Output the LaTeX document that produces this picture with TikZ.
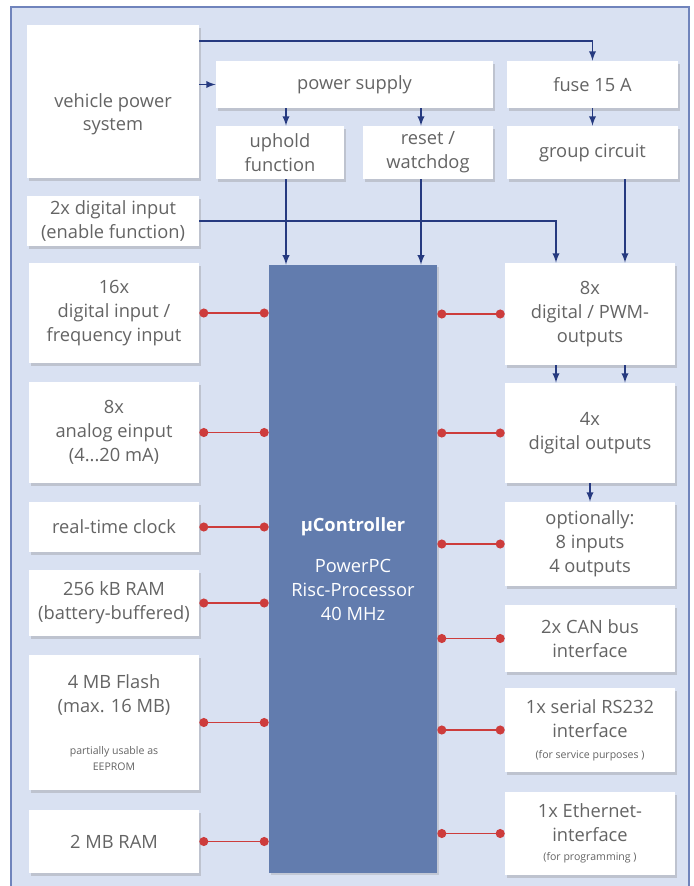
\documentclass[tikz,border=0pt]{standalone}
\usepackage{fontspec}
\setmainfont{Open Sans}
\usetikzlibrary{positioning}
\usetikzlibrary{arrows}
\usetikzlibrary{shadows}
\definecolor{panel}{RGB}{217,225,242}
\definecolor{frame}{RGB}{112,132,188}
\definecolor{cpu}{RGB}{98,124,174}
\definecolor{wireblue}{RGB}{38,58,128}
\definecolor{linkred}{RGB}{205,60,60}
\definecolor{txt}{RGB}{100,100,100}
\newcommand{\finetext}[1]{{\fontsize{7.5}{10}\selectfont #1}}

\begin{document}
\begin{tikzpicture}
    [x=0.025cm, y=-0.025cm,
    block/.style={fill=white, text=txt, align=center, inner sep=2pt, font=\fontsize{13}{17}\selectfont,
        drop shadow={shadow xshift=1.2pt, shadow yshift=-2.2pt, opacity=0.3}},
    leftbox/.style={block, minimum width=4.25cm},
    rightbox/.style={block, minimum width=4.25cm},
    mcu/.style={fill=cpu, text=white, align=center, font=\fontsize{13}{17}\selectfont,
        drop shadow={shadow xshift=1.2pt, shadow yshift=-1.2pt, opacity=0.25}},
    wire/.style={-latex, line width=1.3pt, draw=wireblue},
    link/.style={*-*, line width=1pt, draw=linkred}]
    \useasboundingbox (0,0) rectangle (693,886);
    %\draw[step=1cm,gray,very thin] (0,0) grid (693,886);
    \fill[panel] (11,7) rectangle (689,890);
    \draw[frame, line width=1.5pt] (11,890) -- (11,7) -- (689,7) -- (689,890);
    % supply part
    \node[block, minimum width=4.3cm, minimum height=3.825cm] (veh) at (113,101.5) {\rule{0pt}{28pt}vehicle power\\system};
    \node[block, minimum width=6.925cm, minimum height=1.175cm] (ps) at (354.5,84.5) {power supply};
    \node[block, minimum width=4.275cm, minimum height=1.175cm] (fuse) at (592.5,84.5) {fuse 15 A};
    \node[block, minimum width=3.2cm, minimum height=1.325cm] (uphold) at (280,152.5) {uphold\\function};
    \node[block, minimum width=3.25cm, minimum height=1.325cm] (reset) at (428,152.5) {reset /\\watchdog};
    \node[block, minimum width=4.275cm, minimum height=1.325cm] (group) at (592.5,152.5) {group circuit};
    \node[block, minimum width=4.3cm, minimum height=1.25cm] (din2) at (113,221) {2x digital input\\(enable function)};
    % controller
    \node[mcu, minimum width=4.2cm, minimum height=15.2cm] (mcu) at (353,569)
        {\textbf{µController}\\[12pt]PowerPC\\Risc-Processor\\40 MHz};
    % inputs and memory
    \node[leftbox, minimum height=2.5cm] (din16) at (114,313) {16x\\digital input /\\frequency input};
    \node[leftbox, minimum height=2.525cm] (ain) at (114,432.5) {8x\\analog einput\\(4...20 mA)};
    \node[leftbox, minimum height=1.25cm] (rtc) at (114,527) {real-time clock};
    \node[leftbox, minimum height=1.65cm] (ram256) at (114,603) {256 kB RAM\\(battery-buffered)};
    \node[leftbox, minimum height=3.375cm] (flash) at (114,722.5)
        {4 MB Flash\\(max. 16 MB)\\[13pt]\finetext{partially usable as}\\[-6pt]\finetext{EEPROM}};
    \node[leftbox, minimum height=1.575cm] (ram2) at (114,841.5) {2 MB RAM};
    % outputs and interfaces
    \node[rightbox, minimum height=2.55cm] (pwm) at (590,314) {8x\\digital / PWM-\\outputs};
    \node[rightbox, minimum height=2.5cm] (dout) at (590,433) {4x\\digital outputs};
    \node[rightbox, minimum height=2.1cm] (opt) at (590,544) {optionally:\\8 inputs\\4 outputs};
    \node[rightbox, minimum height=1.675cm] (can) at (590,638.5) {2x CAN bus\\interface};
    \node[rightbox, minimum height=2.1cm] (rs232) at (590,730)
        {1x serial RS232\\interface\\[-2pt]\finetext{(for service purposes )}};
    \node[rightbox, minimum height=2.075cm] (eth) at (590,833.5)
        {1x Ethernet-\\interface\\[-3pt]\finetext{(for programming )}};
    % supply wires
    \draw[wire] (veh.east |- 0,41) -| (fuse.north);
    \draw[wire] (veh.east |- ps.west) -- (ps.west);
    \draw[wire] (ps.south -| 286,0) -- (uphold.north -| 286,0);
    \draw[wire] (ps.south -| 421,0) -- (reset.north -| 421,0);
    \draw[wire] (fuse.south) -- (group.north);
    \draw[wire] (uphold.south -| 286,0) -- (mcu.north -| 286,0);
    \draw[wire] (reset.south -| 421,0) -- (mcu.north -| 421,0);
    \draw[wire] (din2.east) -| (pwm.north -| 556,0);
    \draw[wire] (group.south -| 625,0) -- (pwm.north -| 625,0);
    \draw[wire] (pwm.south -| 556,0) -- (dout.north -| 556,0);
    \draw[wire] (pwm.south -| 625,0) -- (dout.north -| 625,0);
    \draw[wire] (dout.south) -- (opt.north);
    % controller links
    \draw[link] (din16.east) -- (din16.east -| mcu.west);
    \draw[link] (ain.east) -- (ain.east -| mcu.west);
    \draw[link] (rtc.east) -- (rtc.east -| mcu.west);
    \draw[link] (ram256.east) -- (ram256.east -| mcu.west);
    \draw[link] (flash.east) -- (flash.east -| mcu.west);
    \draw[link] (ram2.east) -- (ram2.east -| mcu.west);
    \draw[link] (pwm.west -| mcu.east) -- (pwm.west);
    \draw[link] (dout.west -| mcu.east) -- (dout.west);
    \draw[link] (opt.west -| mcu.east) -- (opt.west);
    \draw[link] (can.west -| mcu.east) -- (can.west);
    \draw[link] (rs232.west -| mcu.east) -- (rs232.west);
    \draw[link] (eth.west -| mcu.east) -- (eth.west);
\end{tikzpicture}
\end{document}
